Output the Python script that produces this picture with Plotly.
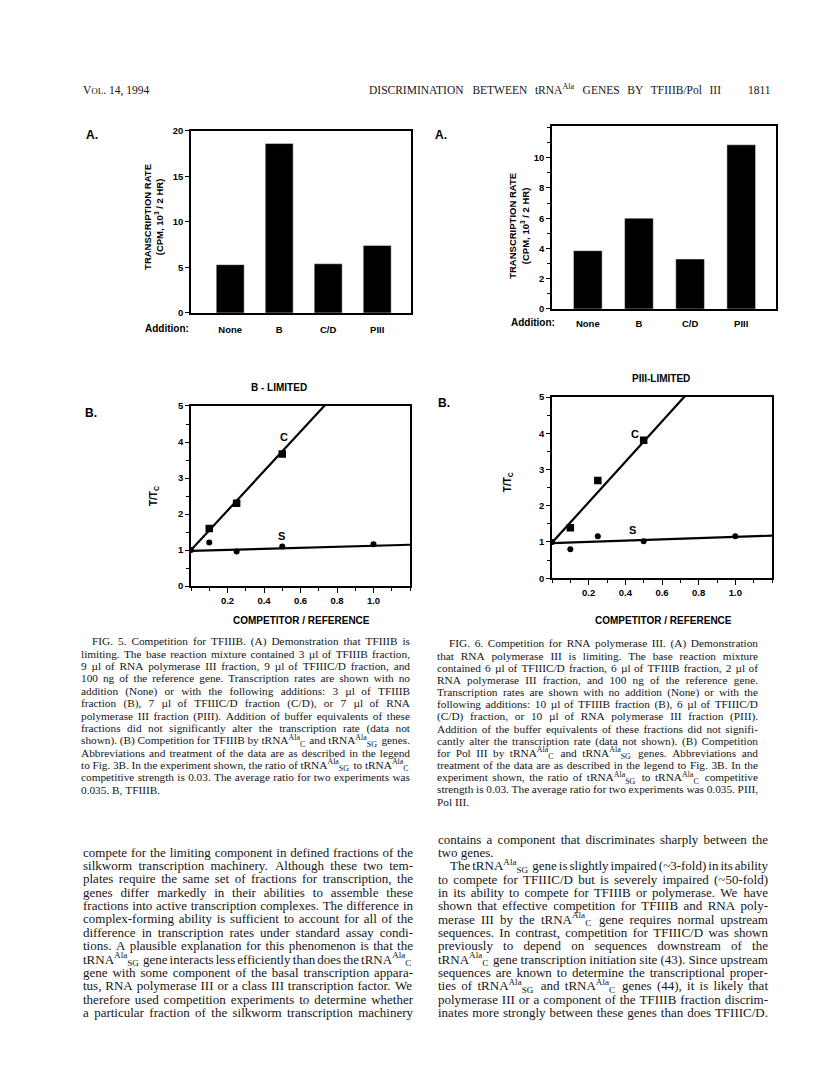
import re
import plotly.graph_objects as go

W, H = 816, 1084
SANS = "Liberation Sans"
SERIF = "Liberation Serif"
INK = "#151515"

# ---------------- data ----------------
additions = ["None", "B", "C/D", "PIII"]
fig5a_rate = [5.3, 18.6, 5.4, 7.4]
fig6a_rate = [3.85, 6.0, 3.3, 10.85]

ratio_c = [0.1, 0.25, 0.5]
ratio_s = [0.0, 0.1, 0.25, 0.5, 1.0]
fig5b_c = [1.6, 2.3, 3.67]
fig5b_s = [1.0, 1.21, 0.96, 1.1, 1.16]
fig6b_c = [1.39, 2.7, 3.81]
fig6b_s = [1.0, 0.8, 1.16, 1.02, 1.16]

fit_x = [0.0, 1.2]
fig5b_c_fit = [1.0, 5.48]    # intercept, slope
fig5b_s_fit = [0.98, 0.14]
fig6b_c_fit = [0.98, 5.58]
fig6b_s_fit = [0.97, 0.17]

yticks_5a = [0, 5, 10, 15, 20]
yticks_6a = [0, 2, 4, 6, 8, 10]
xticks_b = [0.2, 0.4, 0.6, 0.8, 1.0]

header_left = "V<span style='font-size:9px'>OL</span>. 14, 1994"
header_title = "DISCRIMINATION BETWEEN tRNA<sup>Ala</sup> GENES BY TFIIIB/Pol III"
header_page = "1811"

caption5 = [
    "FIG. 5. Competition for TFIIIB. (A) Demonstration that TFIIIB is",
    "limiting. The base reaction mixture contained 3 µl of TFIIIB fraction,",
    "9 µl of RNA polymerase III fraction, 9 µl of TFIIIC/D fraction, and",
    "100 ng of the reference gene. Transcription rates are shown with no",
    "addition (None) or with the following additions: 3 µl of TFIIIB",
    "fraction (B), 7 µl of TFIIIC/D fraction (C/D), or 7 µl of RNA",
    "polymerase III fraction (PIII). Addition of buffer equivalents of these",
    "fractions did not significantly alter the transcription rate (data not",
    "shown). (B) Competition for TFIIIB by tRNA<sup>Ala</sup><sub>C</sub> and tRNA<sup>Ala</sup><sub>SG</sub> genes.",
    "Abbreviations and treatment of the data are as described in the legend",
    "to Fig. 3B. In the experiment shown, the ratio of tRNA<sup>Ala</sup><sub>SG</sub> to tRNA<sup>Ala</sup><sub>C</sub>",
    "competitive strength is 0.03. The average ratio for two experiments was",
    "0.035. B, TFIIIB.",
]
caption6 = [
    "FIG. 6. Competition for RNA polymerase III. (A) Demonstration",
    "that RNA polymerase III is limiting. The base reaction mixture",
    "contained 6 µl of TFIIIC/D fraction, 6 µl of TFIIIB fraction, 2 µl of",
    "RNA polymerase III fraction, and 100 ng of the reference gene.",
    "Transcription rates are shown with no addition (None) or with the",
    "following additions: 10 µl of TFIIIB fraction (B), 6 µl of TFIIIC/D",
    "(C/D) fraction, or 10 µl of RNA polymerase III fraction (PIII).",
    "Addition of the buffer equivalents of these fractions did not signifi-",
    "cantly alter the transcription rate (data not shown). (B) Competition",
    "for Pol III by tRNA<sup>Ala</sup><sub>C</sub> and tRNA<sup>Ala</sup><sub>SG</sub> genes. Abbreviations and",
    "treatment of the data are as described in the legend to Fig. 3B. In the",
    "experiment shown, the ratio of tRNA<sup>Ala</sup><sub>SG</sub> to tRNA<sup>Ala</sup><sub>C</sub> competitive",
    "strength is 0.03. The average ratio for two experiments was 0.035. PIII,",
    "Pol III.",
]
body_left = [
    "compete for the limiting component in defined fractions of the",
    "silkworm transcription machinery. Although these two tem-",
    "plates require the same set of fractions for transcription, the",
    "genes differ markedly in their abilities to assemble these",
    "fractions into active transcription complexes. The difference in",
    "complex-forming ability is sufficient to account for all of the",
    "difference in transcription rates under standard assay condi-",
    "tions. A plausible explanation for this phenomenon is that the",
    "tRNA<sup>Ala</sup><sub>SG</sub> gene interacts less efficiently than does the tRNA<sup>Ala</sup><sub>C</sub>",
    "gene with some component of the basal transcription appara-",
    "tus, RNA polymerase III or a class III transcription factor. We",
    "therefore used competition experiments to determine whether",
    "a particular fraction of the silkworm transcription machinery",
]
body_right = [
    "contains a component that discriminates sharply between the",
    "two genes.",
    "The tRNA<sup>Ala</sup><sub>SG</sub> gene is slightly impaired (~3-fold) in its ability",
    "to compete for TFIIIC/D but is severely impaired (~50-fold)",
    "in its ability to compete for TFIIIB or polymerase. We have",
    "shown that effective competition for TFIIIB and RNA poly-",
    "merase III by the tRNA<sup>Ala</sup><sub>C</sub> gene requires normal upstream",
    "sequences. In contrast, competition for TFIIIC/D was shown",
    "previously to depend on sequences downstream of the",
    "tRNA<sup>Ala</sup><sub>C</sub> gene transcription initiation site (43). Since upstream",
    "sequences are known to determine the transcriptional proper-",
    "ties of tRNA<sup>Ala</sup><sub>SG</sub> and tRNA<sup>Ala</sup><sub>C</sub> genes (44), it is likely that",
    "polymerase III or a component of the TFIIIB fraction discrim-",
    "inates more strongly between these genes than does TFIIIC/D.",
]

# ---------------- text metrics (Times-compatible) ----------------
TW = {' ': 250, '!': 333, '(': 333, ')': 333, ',': 250, '-': 333, '.': 250, '/': 278,
      ':': 278, ';': 278, '~': 541, 'µ': 500}
for d in "0123456789":
    TW[d] = 500
TW.update(dict(zip("ABCDEFGHIJKLMNOPQRSTUVWXYZ",
                   [722, 667, 667, 722, 611, 556, 722, 722, 333, 389, 722, 611, 889, 722,
                    722, 556, 722, 667, 556, 611, 722, 722, 944, 722, 722, 611])))
TW.update(dict(zip("abcdefghijklmnopqrstuvwxyz",
                   [444, 500, 444, 500, 444, 333, 500, 500, 278, 278, 500, 278, 778, 500,
                    500, 500, 500, 333, 389, 278, 500, 500, 722, 500, 500, 444])))


def text_width(s, size):
    total, scale = 0.0, 1.0
    for tok in re.split(r'(<[^>]+>)', s):
        if tok.startswith('<'):
            scale = 0.76 if tok in ('<sup>', '<sub>') else 1.0
            continue
        for ch in tok:
            total += TW.get(ch, 500) * scale
    return total * size / 1000.0


def justify(lines, x0, x1, y0, dy, size, indents=None, ragged=()):
    indents = indents or {}
    xs, ys, ws = [], [], []
    for i, line in enumerate(lines):
        words = line.split(' ')
        left = x0 + indents.get(i, 0)
        widths = [text_width(w, size) for w in words]
        if i in ragged or len(words) == 1:
            gap = TW[' '] * size / 1000.0
        else:
            gap = (x1 - left - sum(widths)) / (len(words) - 1)
        x = left
        for w, wd in zip(words, widths):
            xs.append(x)
            ys.append(y0 + i * dy)
            ws.append(w)
            x += wd + gap
    return xs, ys, ws


fig = go.Figure()

# ---------------- bar charts ----------------
fig.add_trace(go.Bar(x=additions, y=fig5a_rate, marker_color="black", width=0.57,
                     xaxis="x", yaxis="y", showlegend=False, hoverinfo="skip"))
fig.add_trace(go.Bar(x=additions, y=fig6a_rate, marker_color="black", width=0.56,
                     xaxis="x2", yaxis="y2", showlegend=False, hoverinfo="skip"))


def add_comp(xa, ya, c_vals, s_vals, c_fit, s_fit):
    for b, m in (c_fit, s_fit):
        fig.add_trace(go.Scatter(x=fit_x, y=[b + m * x for x in fit_x], mode="lines",
                                 line=dict(color="black", width=2.2),
                                 xaxis=xa, yaxis=ya, showlegend=False, hoverinfo="skip"))
    fig.add_trace(go.Scatter(x=ratio_c, y=c_vals, mode="markers",
                             marker=dict(symbol="square", size=7.5, color="black"),
                             xaxis=xa, yaxis=ya, showlegend=False, hoverinfo="skip"))
    fig.add_trace(go.Scatter(x=ratio_s, y=s_vals, mode="markers",
                             marker=dict(symbol="circle", size=6, color="black"),
                             xaxis=xa, yaxis=ya, showlegend=False, hoverinfo="skip"))


add_comp("x3", "y3", fig5b_c, fig5b_s, fig5b_c_fit, fig5b_s_fit)
add_comp("x4", "y4", fig6b_c, fig6b_s, fig6b_c_fit, fig6b_s_fit)

# ---------------- page text (overlay axis in pixel units) ----------------
def add_text(xs, ys, ws, size, family=SERIF):
    fig.add_trace(go.Scatter(x=xs, y=ys, text=ws, mode="text", textposition="middle right",
                             textfont=dict(family=family, size=size, color=INK),
                             xaxis="x5", yaxis="y5", showlegend=False, hoverinfo="skip",
                             cliponaxis=False))


add_text(*justify(caption5, 73, 402, 635, 12.5, 11.3, indents={0: 11}, ragged=(12,)), 11.3)
add_text(*justify(caption6, 429, 750, 637, 12.3, 11.3, indents={0: 12}, ragged=(13,)), 11.3)
add_text(*justify(body_left, 75, 405, 848, 13.5, 13), 13)
add_text(*justify(body_right, 430, 760, 835, 13.46, 13, indents={2: 12}, ragged=(1,)), 13)
add_text(*justify([header_title], 361, 713, 78, 0, 11.5), 11.5)
add_text([75, 740], [78, 78], [header_left, header_page], 11.5)

# ---------------- axes ----------------
def px_dom(a, b):
    return [a / W, b / W]


def py_dom(top, bottom):
    return [1 - bottom / H, 1 - top / H]


tickfont = dict(family=SANS, size=9.5, color="black", weight="bold")
base = dict(showline=True, linecolor="black", linewidth=1.5, mirror=True, showgrid=False,
            zeroline=False, ticks="outside", ticklen=4, tickwidth=1.3, tickcolor="black",
            tickfont=tickfont, fixedrange=True)
minor_style = dict(tickmode="linear", tick0=0, ticks="outside", ticklen=3,
                   tickcolor="black", tickwidth=1)

fig.update_layout(
    width=W, height=H, margin=dict(l=0, r=0, t=0, b=0),
    paper_bgcolor="white", plot_bgcolor="rgba(0,0,0,0)",
    xaxis=dict(base, domain=px_dom(183, 403), type="category", range=[-0.8, 3.69],
               ticks="", ticklabelstandoff=7, anchor="y"),
    yaxis=dict(base, domain=py_dom(118, 302), range=[0, 20], tickmode="array",
               tickvals=yticks_5a, anchor="x"),
    xaxis2=dict(base, domain=px_dom(544, 768), type="category", range=[-0.7, 3.68],
                ticks="", ticklabelstandoff=5, anchor="y2"),
    yaxis2=dict(base, domain=py_dom(113, 298), range=[0, 12.1], tickmode="array",
                tickvals=yticks_6a, anchor="x2", minor=dict(minor_style, dtick=1)),
    xaxis3=dict(base, domain=px_dom(183, 402), range=[0, 1.2], tickmode="array",
                tickvals=xticks_b, tickformat=".1f", ticklen=5, anchor="y3",
                minor=dict(minor_style, dtick=0.1)),
    yaxis3=dict(base, domain=py_dom(396, 578), range=[0, 5], tickmode="linear", tick0=0,
                dtick=1, anchor="x3", minor=dict(minor_style, dtick=0.5)),
    xaxis4=dict(base, domain=px_dom(544, 764), range=[0, 1.2], tickmode="array",
                tickvals=xticks_b, tickformat=".1f", ticklen=5, anchor="y4",
                minor=dict(minor_style, dtick=0.1)),
    yaxis4=dict(base, domain=py_dom(387, 570), range=[0, 5], tickmode="linear", tick0=0,
                dtick=1, anchor="x4", minor=dict(minor_style, dtick=0.5)),
    xaxis5=dict(domain=[0, 1], range=[0, W], visible=False, fixedrange=True, anchor="y5"),
    yaxis5=dict(domain=[0, 1], range=[H, 0], visible=False, fixedrange=True, anchor="x5"),
)

# ---------------- labels ----------------
def lab(text, x, y, size=10, angle=0, xanchor="center", xref="paper", yref="paper"):
    if xref == "paper":
        x, y = x / W, 1 - y / H
    fig.add_annotation(text=text, x=x, y=y, xref=xref, yref=yref, showarrow=False,
                       xanchor=xanchor, yanchor="middle", textangle=angle, borderpad=0,
                       font=dict(family=SANS, size=size, color="black", weight="bold"))


lab("A.", 84, 122, 12)
lab("A.", 433, 122, 12)
lab("B.", 83, 403, 12)
lab("B.", 436, 393, 12)
ytitle = "TRANSCRIPTION RATE<br>(CPM, 10<sup>3</sup> / 2 HR)"
lab(ytitle, 146, 205, 9.5, angle=-90)
lab(ytitle, 511, 214, 9.5, angle=-90)
lab("Addition:", 159, 318, 10)
lab("Addition:", 525, 312, 10)
lab("B - LIMITED", 271, 377, 10)
lab("PIII-LIMITED", 653, 368, 10)
lab("T/T<sub>C</sub>", 146, 487, 10, angle=-90)
lab("T/T<sub>C</sub>", 500, 473, 10, angle=-90)
lab("COMPETITOR / REFERENCE", 293, 613, 10)
lab("COMPETITOR / REFERENCE", 655, 613, 10)
lab("C", 0.51, 4.15, 11, xref="x3", yref="y3")
lab("S", 0.495, 1.4, 11, xref="x3", yref="y3")
lab("C", 0.45, 3.99, 11, xref="x4", yref="y4")
lab("S", 0.44, 1.34, 11, xref="x4", yref="y4")

fig.write_html("out.html")
